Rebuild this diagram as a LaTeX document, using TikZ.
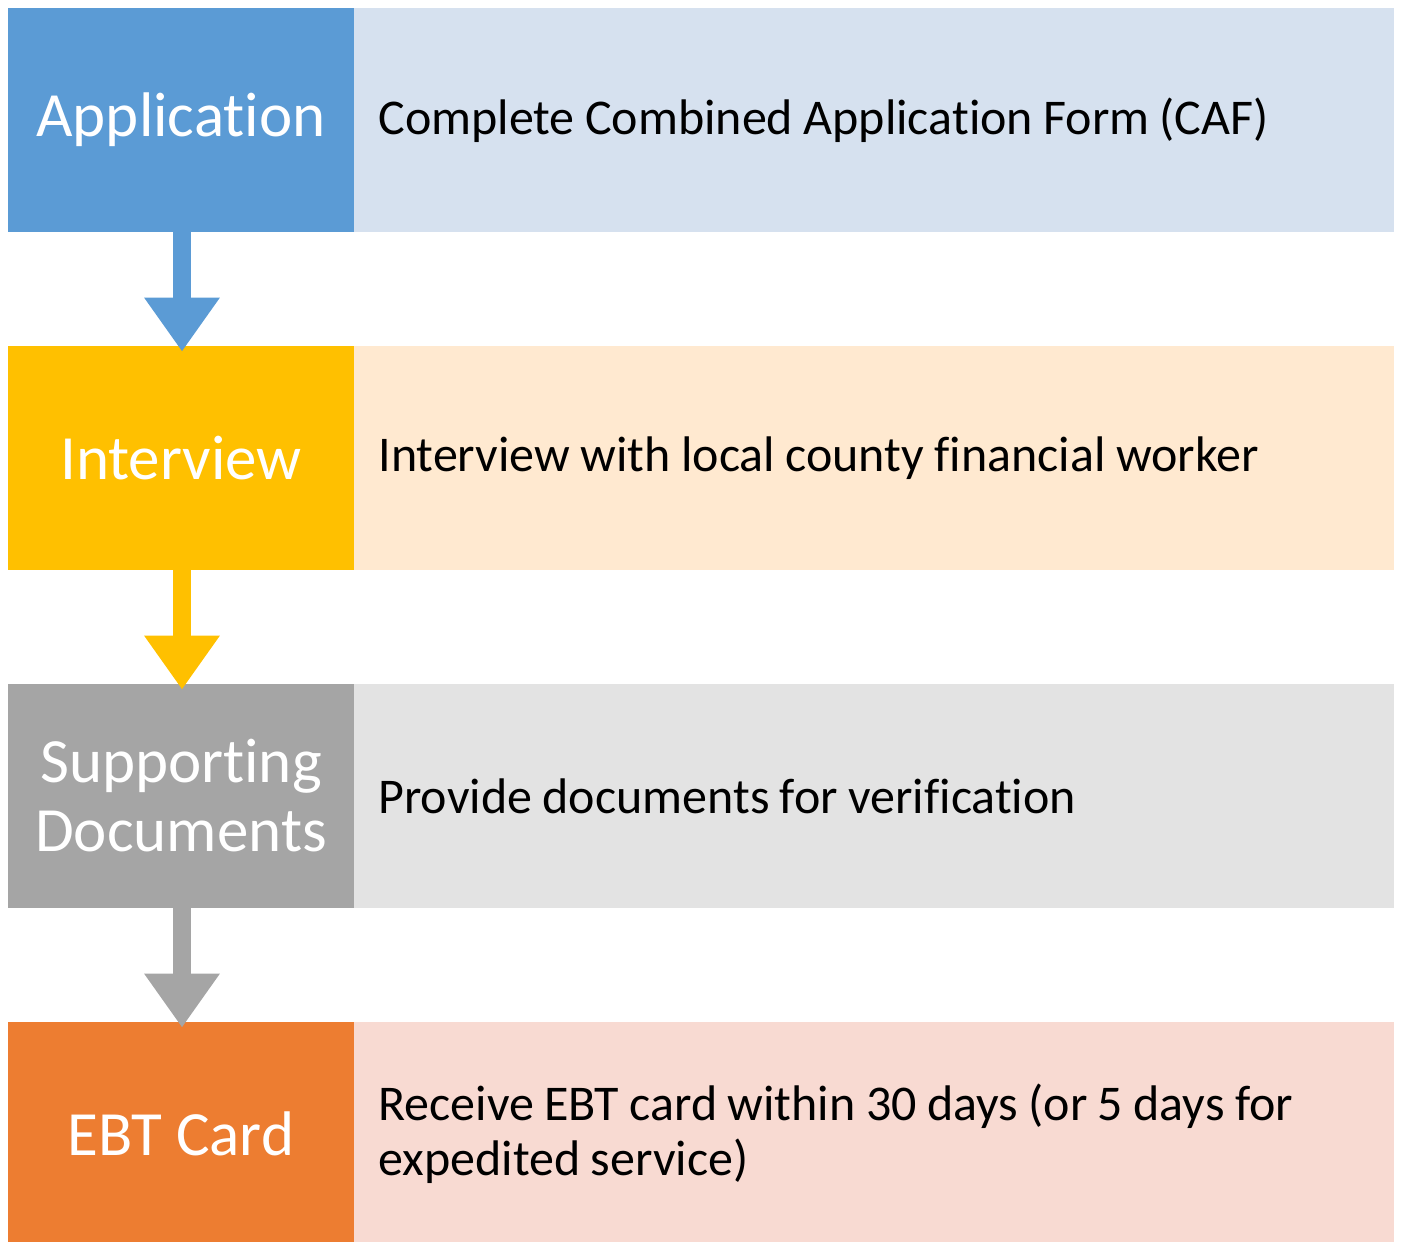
\documentclass[tikz,border=0pt]{standalone}
\usepackage{fontspec}
\setmainfont{Carlito}[Ligatures=NoCommon]
\usetikzlibrary{arrows.meta}
\definecolor{blueA}{HTML}{5B9BD5}
\definecolor{blueB}{HTML}{D6E1EF}
\definecolor{goldA}{HTML}{FFC000}
\definecolor{goldB}{HTML}{FFE9D0}
\definecolor{grayA}{HTML}{A5A5A5}
\definecolor{grayB}{HTML}{E3E3E3}
\definecolor{orangeA}{HTML}{ED7D31}
\definecolor{orangeB}{HTML}{F8DAD2}
\newcommand\tightspace{\spaceskip=5.2pt\relax}
\begin{document}
\begin{tikzpicture}[x=0.5pt, y=-0.5pt,
  stage/.style={minimum width=173pt, minimum height=112pt, inner sep=0pt, align=center, text=white, font=\fontsize{31.5}{34.5}\selectfont},
  detail/.style={minimum height=112pt, text width=496pt, inner xsep=12pt, inner ysep=0pt, align=left, font=\fontsize{25}{27.5}\selectfont, execute at begin node=\tightspace},
  flow/.style={line width=9pt, -{Triangle[width=36pt, length=27pt]}}]
\useasboundingbox (0,0) rectangle (1408,1242);
\clip (0,0) rectangle (1408,1242);
\node[stage, fill=blueA] (1) at (181,120) {Application};
\node[stage, fill=goldA] (2) at (181,458) {Interview};
\node[stage, fill=grayA] (3) at (181,796) {Supporting\\Documents};
\node[stage, fill=orangeA] (4) at (181,1134) {EBT Card};

\node[detail, fill=blueB, anchor=west] (t1) at (354,120) {Complete Combined Application Form (CAF)};
\node[detail, fill=goldB, anchor=west] (t2) at (354,458) {Interview with local county financial worker};
\node[detail, fill=grayB, anchor=west] (t3) at (354,796) {Provide documents for verification};
\node[detail, fill=orangeB, anchor=west] (t4) at (354,1134) {Receive EBT card within 30 days (or 5 days for\\expedited service)};

\path[draw, flow, blueA] ([xshift=0.5pt]1.south) -- ([xshift=0.5pt, yshift=-3pt]2.north);
\path[draw, flow, goldA] ([xshift=0.5pt]2.south) -- ([xshift=0.5pt, yshift=-3pt]3.north);
\path[draw, flow, grayA] ([xshift=0.5pt]3.south) -- ([xshift=0.5pt, yshift=-3pt]4.north);
\end{tikzpicture}
\end{document}
